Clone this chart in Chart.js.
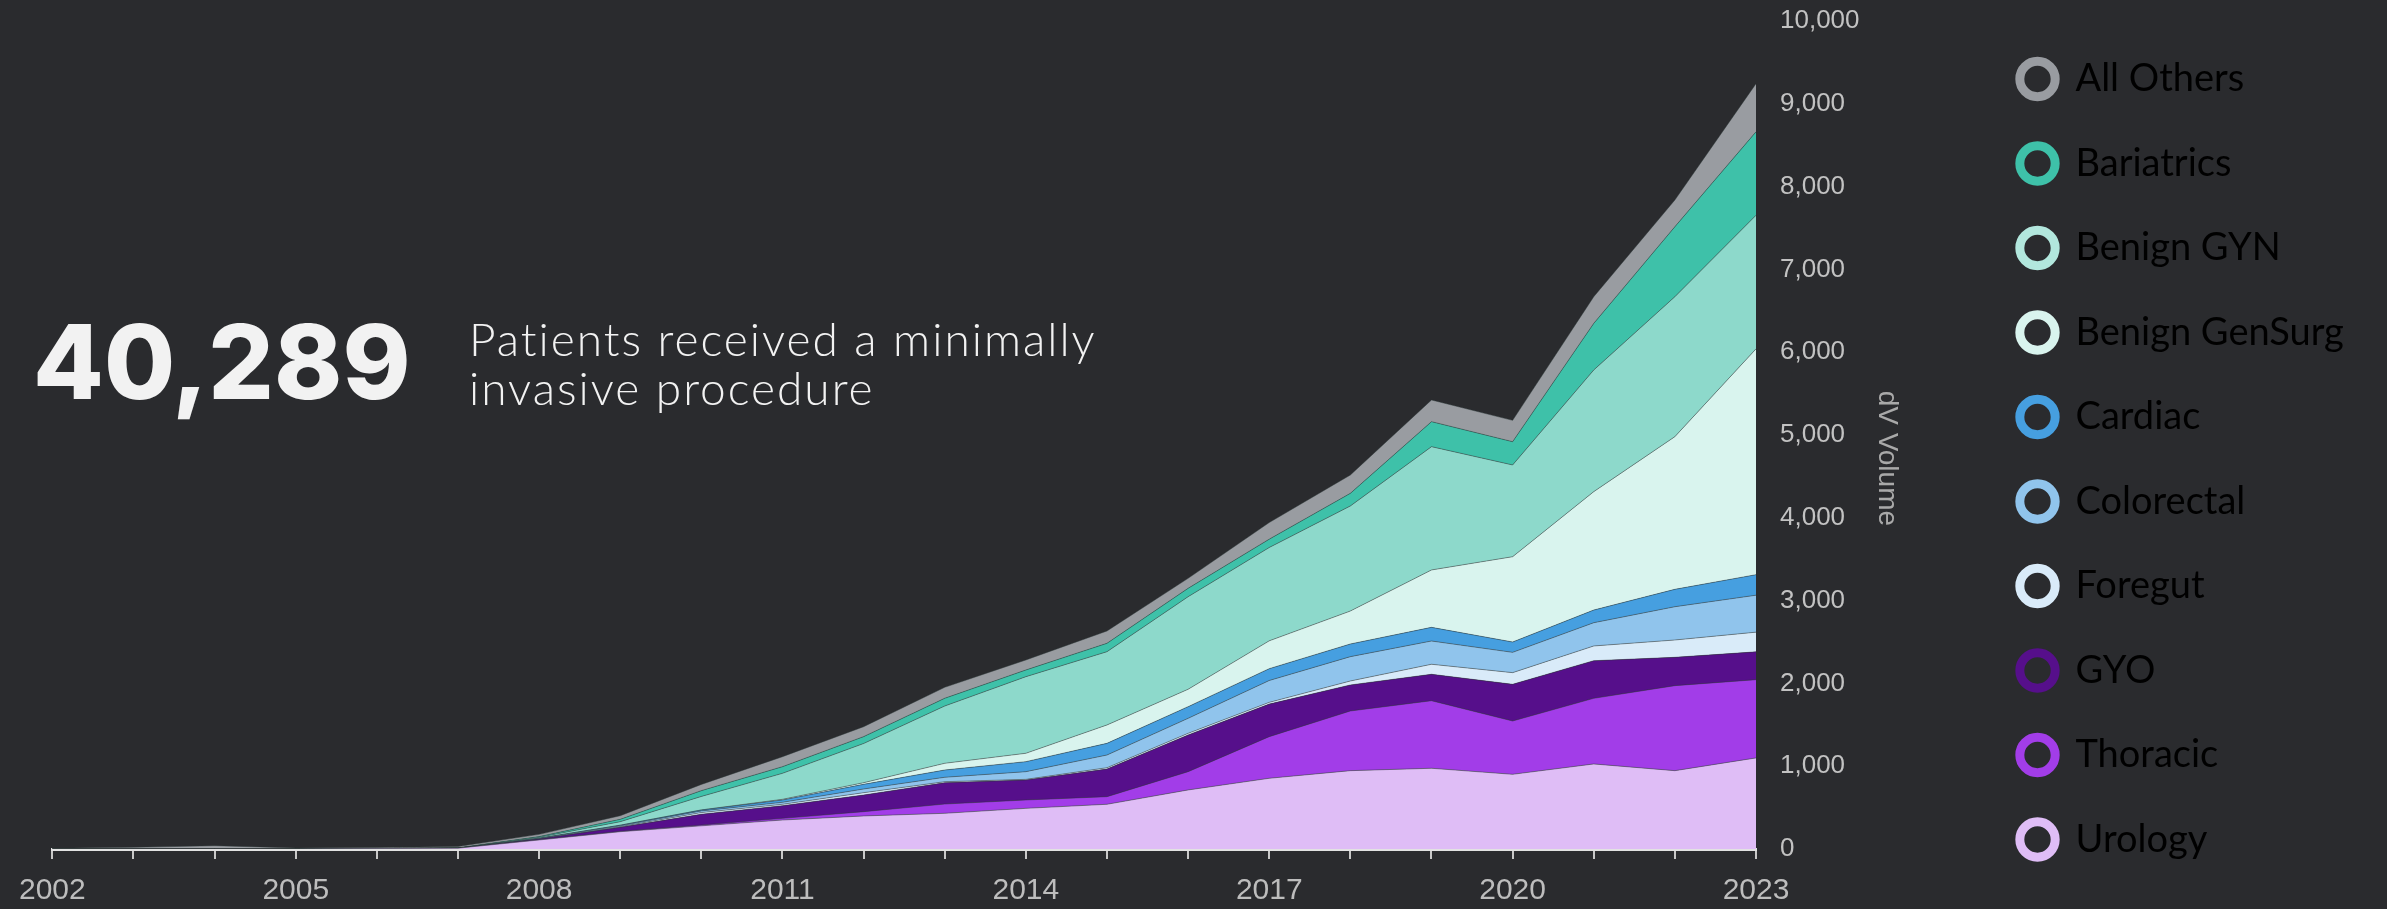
<!DOCTYPE html>
<html>
<head>
<meta charset="utf-8">
<title>dV Volume</title>
<script src="https://cdn.jsdelivr.net/npm/chart.js@4.4.1/dist/chart.umd.min.js"></script>
<style>
  html, body { margin: 0; padding: 0; background: #2a2b2e; }
  #wrap { position: relative; width: 2387px; height: 909px; }
</style>
</head>
<body>
<div id="wrap"><canvas id="volumeChart"></canvas></div>
<script>
// Years on the x axis
const years = ['2002', '2003', '2004', '2005', '2006', '2007', '2008', '2009', '2010', '2011', '2012',
  '2013', '2014', '2015', '2016', '2017', '2018', '2019', '2020', '2021', '2022', '2023'];

// Volume per specialty (stacked bottom -> top)
const urology = [0, 0, 0, 0, 5, 10, 109, 209, 280, 350, 399, 431, 491, 540, 713, 854, 946, 975, 902, 1027, 946, 1100];
const thoracic = [0, 0, 0, 0, 0, 0, 2, 4, 10, 20, 52, 112, 101, 92, 221, 503, 721, 816, 644, 793, 1027, 945];
const gyo = [0, 0, 0, 0, 0, 0, 9, 49, 130, 153, 201, 258, 241, 334, 443, 393, 314, 319, 443, 454, 342, 336];
const foregut = [0, 0, 0, 0, 0, 0, 2, 8, 20, 17, 28, 12, 8, 16, 20, 21, 48, 121, 141, 178, 209, 238];
const colorectal = [0, 0, 0, 0, 0, 0, 4, 10, 20, 24, 45, 53, 93, 153, 181, 264, 294, 281, 245, 281, 402, 446];
const cardiac = [0, 0, 0, 0, 0, 0, 4, 6, 10, 28, 56, 88, 121, 141, 141, 143, 153, 165, 125, 153, 210, 248];
const benignGenSurg = [0, 0, 0, 0, 0, 0, 1, 2, 2, 8, 20, 81, 101, 222, 210, 336, 398, 693, 1030, 1430, 1844, 2727];
const benignGyn = [0, 0, 0, 0, 0, 2, 10, 42, 163, 314, 473, 692, 925, 885, 1118, 1127, 1269, 1489, 1108, 1469, 1690, 1613];
const bariatrics = [0, 0, 0, 0, 0, 2, 9, 28, 70, 80, 83, 93, 81, 101, 101, 101, 152, 302, 281, 563, 845, 1008];
const allOthers = [8, 20, 40, 12, 13, 16, 27, 44, 75, 121, 120, 133, 121, 149, 121, 201, 222, 262, 258, 322, 323, 582];

// Headline text
const headlineNumber = '40,289';
const headlineLines = ['Patients received a minimally', 'invasive procedure'];

const series = [
  { label: 'Urology', data: urology, color: '#dfbdf6' },
  { label: 'Thoracic', data: thoracic, color: '#a23de8' },
  { label: 'GYO', data: gyo, color: '#560f8b' },
  { label: 'Foregut', data: foregut, color: '#d9ebf9' },
  { label: 'Colorectal', data: colorectal, color: '#90c4ec' },
  { label: 'Cardiac', data: cardiac, color: '#469fe0' },
  { label: 'Benign GenSurg', data: benignGenSurg, color: '#d9f4ee' },
  { label: 'Benign GYN', data: benignGyn, color: '#8dd9cb', ring: '#b2e7dd' },
  { label: 'Bariatrics', data: bariatrics, color: '#3ec1a9' },
  { label: 'All Others', data: allOthers, color: '#999ca1' }
];

const LEGEND_WIDTH = 415;

// Fixed legend width + big number and caption on the left side
const headlinePlugin = {
  id: 'headline',
  beforeUpdate(chart) {
    const legend = chart.legend;
    if (legend && !legend._fixedWidth) {
      const baseFit = legend.fit.bind(legend);
      legend.fit = function () {
        baseFit();
        this.width = LEGEND_WIDTH;
      };
      legend._fixedWidth = true;
    }
  },
  afterDraw(chart) {
    const ctx = chart.ctx;
    ctx.save();
    ctx.fillStyle = '#f2f2f2';
    ctx.textBaseline = 'alphabetic';
    ctx.textAlign = 'left';
    ctx.font = '800 103px Inter';
    ctx.letterSpacing = '0px';
    ctx.fillText(headlineNumber, 33, 399);
    ctx.font = '300 46px Lato';
    ctx.letterSpacing = '2px';
    ctx.fillText(headlineLines[0], 469, 356);
    ctx.fillText(headlineLines[1], 469, 405);
    ctx.restore();
  }
};

const ctx = document.getElementById('volumeChart').getContext('2d');

new Chart(ctx, {
  type: 'line',
  data: {
    labels: years,
    datasets: series.map((s, i) => ({
      label: s.label,
      data: s.data,
      backgroundColor: s.color,
      borderColor: 'rgba(45, 55, 55, 0.45)',
      borderWidth: 1,
      pointRadius: 0,
      tension: 0,
      fill: i === 0 ? 'origin' : '-1',
      ringColor: s.ring || s.color
    }))
  },
  options: {
    responsive: true,
    maintainAspectRatio: false,
    animation: false,
    layout: {
      padding: { top: 5, left: 48, right: 0, bottom: 4 }
    },
    scales: {
      x: {
        grid: {
          display: true,
          drawOnChartArea: false,
          drawTicks: true,
          tickLength: 10,
          color: '#c8c8c8',
          lineWidth: 2
        },
        border: { display: true, color: '#e2e2e2', width: 3 },
        ticks: {
          autoSkip: false,
          maxRotation: 0,
          minRotation: 0,
          padding: 19,
          color: '#bdbdbd',
          font: { family: 'Liberation Sans', size: 30, lineHeight: 0.867 },
          callback: (value, index) => (index % 3 === 0 ? years[index] : '')
        },
        afterFit(scale) {
          scale.height = 56;
        }
      },
      y: {
        position: 'right',
        stacked: true,
        min: 0,
        max: 10000,
        grid: { display: false, drawTicks: false },
        border: { display: false },
        ticks: {
          stepSize: 1000,
          padding: 24,
          color: '#c2c2c2',
          font: { family: 'Liberation Sans', size: 26 }
        },
        title: {
          display: true,
          // leading spaces nudge the rotated title down to the page centre
          text: '      dV Volume',
          color: '#a9a9a9',
          font: { family: 'Liberation Sans', size: 28 },
          padding: { top: 68, bottom: 13 }
        },
        afterFit(scale) {
          scale.width = 216;
          scale.paddingTop = 21;
          scale.paddingBottom = 0;
        }
      }
    },
    plugins: {
      tooltip: { enabled: false },
      legend: {
        display: true,
        position: 'right',
        align: 'end',
        reverse: true,
        labels: {
          usePointStyle: true,
          pointStyle: 'circle',
          boxWidth: 38,
          boxHeight: 25,
          padding: 46.5,
          color: '#f4f4f4',
          font: { family: 'Lato', size: 38 },
          generateLabels(chart) {
            return chart.data.datasets.map((ds, i) => ({
              text: ds.label,
              fillStyle: 'transparent',
              strokeStyle: ds.ringColor,
              lineWidth: 9,
              pointStyle: 'circle',
              hidden: !chart.isDatasetVisible(i),
              datasetIndex: i
            }));
          }
        }
      }
    }
  },
  plugins: [headlinePlugin]
});
</script>
</body>
</html>
